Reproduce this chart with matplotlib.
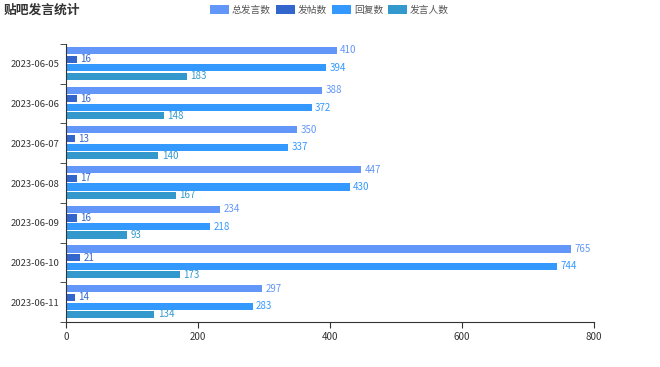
import matplotlib
matplotlib.use("Agg")
import matplotlib.pyplot as plt
import numpy as np
from matplotlib.patches import FancyBboxPatch, Rectangle
from matplotlib.legend_handler import HandlerPatch

plt.rcParams['font.family'] = ['Noto Sans CJK SC', 'DejaVu Sans']

dates = ["2023-06-05", "2023-06-06", "2023-06-07", "2023-06-08", "2023-06-09", "2023-06-10", "2023-06-11"]
total = [410, 388, 350, 447, 234, 765, 297]
posts = [16, 16, 13, 17, 16, 21, 14]
replies = [394, 372, 337, 430, 218, 744, 283]
users = [183, 148, 140, 167, 93, 173, 134]
series_names = ["总发言数", "发帖数", "回复数", "发言人数"]
colors = ["#6396f9", "#3366cc", "#3399ff", "#3399cc"]
xticks = [0, 200, 400, 600, 800]

fig = plt.figure(figsize=(6.6, 3.67), dpi=100)
ax = fig.add_axes([0.1, 0.1226, 0.8, 0.7574])

series = [total, posts, replies, users]
y = np.arange(len(dates))
h = 0.18
offs = [-0.34, -0.12, 0.10, 0.31]
for vals, c, o, name in zip(series, colors, offs, series_names):
    bars = ax.barh(y + o, vals, height=h, color=c, label=name)
    for b, v in zip(bars, vals):
        ax.text(v + 5, b.get_y() + b.get_height() / 2, str(v), color=c,
                va='center', ha='left', fontsize=7)

ax.set_ylim(len(dates) - 0.5, -0.5)
ax.set_xlim(0, 800)
ax.set_xticks(xticks)
ax.set_yticks(y)
ax.set_yticklabels(dates)
ax.set_yticks(np.arange(len(dates) + 1) - 0.5, minor=True)
ax.tick_params(axis='y', which='major', length=0, labelsize=6.8, labelcolor='#333333', pad=4.5)
ax.tick_params(axis='y', which='minor', length=4, color='#333333', direction='out')
ax.tick_params(axis='x', length=4, color='#333333', labelsize=7, labelcolor='#333333')
for s in ['top', 'right']:
    ax.spines[s].set_visible(False)
ax.spines['left'].set_color('#333333')
ax.spines['bottom'].set_color('#333333')

fig.text(0.005, 0.973, "贴吧发言统计", fontsize=9.2, fontweight='bold', color='#333333', va='center')

class RoundHandler(HandlerPatch):
    def create_artists(self, legend, orig_handle, xdescent, ydescent, width, height, fontsize, trans):
        p = FancyBboxPatch((-xdescent, -ydescent), width, height,
                           boxstyle="round,pad=0,rounding_size=3",
                           facecolor=orig_handle.get_facecolor(), edgecolor='none', transform=trans)
        return [p]

handles, labels = ax.get_legend_handles_labels()
leg = fig.legend(handles, labels, loc='center', bbox_to_anchor=(0.499, 0.973), ncol=4, frameon=False,
                 fontsize=7, handlelength=1.96, handleheight=0.93, handletextpad=0.31, columnspacing=0.51,
                 borderpad=0, handler_map={Rectangle: RoundHandler()})
for t in leg.get_texts():
    t.set_color('#555555')

fig.savefig("out.png", dpi=100)
